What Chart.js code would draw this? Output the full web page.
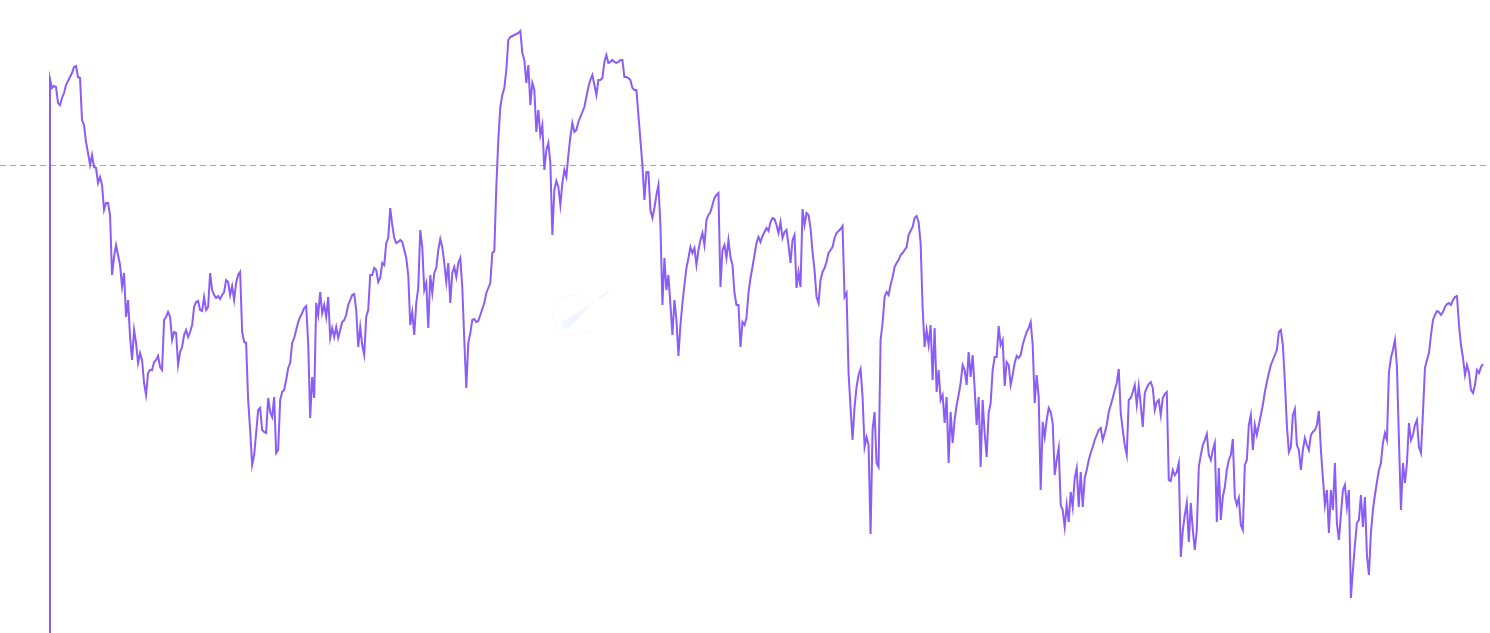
<!DOCTYPE html>
<html>
<head>
<meta charset="utf-8">
<title>Line chart</title>
<script src="https://cdn.jsdelivr.net/npm/chart.js@4/dist/chart.umd.min.js"></script>
<style>
    html, body { margin: 0; padding: 0; background: #fff; overflow: hidden; }
    canvas { display: block; }
</style>
</head>
<body>
<canvas id="chart" width="1490" height="633"></canvas>
<script>
'use strict';

// No axis labels survive, so the unit is arbitrary.
const openingValue = 0;
const referenceValue = 468;
const seriesValues = [
    554,545,547,546,530,528,535,540,548,552,
    556,560,566,567,556,555,513,508,491,480,
    468,478,466,465,450,456,448,423,430,430,
    418,358,376,388,378,368,346,360,316,333,
    296,273,303,290,270,280,273,250,238,260,
    263,263,271,273,277,266,263,313,316,321,
    316,293,301,300,268,281,286,298,303,296,
    301,308,326,331,332,323,322,336,323,326,
    360,343,338,335,337,334,338,341,353,351,
    338,347,333,350,358,361,301,291,290,233,
    203,168,178,200,223,225,203,201,200,235,
    221,216,236,180,183,233,241,243,253,265,
    270,290,295,303,311,316,320,325,327,290,
    215,256,235,330,318,341,320,328,316,336,
    295,305,296,306,295,303,311,313,318,328,
    333,338,339,323,286,306,288,278,316,323,
    358,358,365,363,351,355,370,368,390,395,
    425,408,395,390,391,393,391,383,375,358,
    308,321,298,330,345,403,386,343,350,305,
    358,340,360,365,383,394,386,370,351,370,
    330,360,366,356,370,375,346,293,245,290,
    300,313,314,311,312,318,324,330,340,345,
    350,380,382,446,493,526,538,545,563,593,
    596,597,598,599,600,602,580,573,550,568,
    528,550,543,501,523,498,508,463,483,490,
    470,398,443,452,446,428,450,463,456,478,
    496,510,501,503,511,516,521,526,536,546,
    553,558,548,538,553,553,555,571,578,570,
    571,573,571,570,571,573,573,556,556,555,
    553,545,543,543,518,493,468,433,461,461,
    423,415,425,438,448,408,328,375,343,358,
    328,298,333,313,277,308,330,348,365,375,
    386,380,385,368,383,393,400,388,413,418,
    421,428,435,438,440,346,383,388,375,393,
    376,368,340,328,328,286,311,308,315,340,
    355,366,378,390,396,391,397,401,405,402,
    411,415,414,408,400,411,395,401,403,388,
    370,393,398,345,361,346,424,408,420,418,
    405,381,363,336,330,353,361,365,371,380,
    383,386,395,400,402,404,407,336,340,260,
    225,193,226,246,258,264,236,186,196,188,
    99,203,221,170,166,293,310,336,341,338,
    348,356,366,370,373,378,380,383,386,398,
    402,406,415,417,411,390,326,286,303,288,
    308,253,305,241,263,233,238,210,236,170,
    221,190,213,228,238,250,268,263,248,281,
    256,278,245,208,236,166,233,200,176,220,
    230,263,276,276,307,288,293,247,271,268,
    248,258,270,277,275,278,288,295,301,305,
    311,288,230,258,236,143,211,196,213,225,
    221,210,158,173,185,128,123,106,128,111,
    141,126,155,165,126,161,126,155,163,173,
    180,186,193,198,203,205,193,200,208,221,
    228,235,243,250,264,220,203,188,178,233,
    235,241,248,228,247,228,206,240,245,249,
    251,245,223,231,233,218,235,239,241,153,
    152,163,158,161,170,76,103,118,130,91,
    130,103,83,103,166,178,188,193,199,178,
    173,183,190,111,165,113,136,146,163,173,
    178,194,136,128,135,108,103,168,173,208,
    218,183,208,198,208,218,228,241,251,260,
    268,273,278,283,301,303,288,251,208,181,
    186,218,224,188,183,163,183,195,188,183,
    198,201,203,208,222,183,155,128,143,100,
    143,123,170,110,93,118,143,148,126,143,
    35,63,88,110,113,138,106,136,78,58,
    100,123,138,151,163,170,190,200,193,261,
    275,283,293,266,193,123,170,150,170,210,
    193,198,208,213,186,180,220,265,273,280,
    298,313,318,322,321,318,321,326,329,330,
    328,333,336,337,308,288,275,258,268,260,
    243,240,248,263,260,266,269
];

const lineColor = '#8b5cf6';

// Dashed level runs past the plot area, so it can't be a normal dataset
const referenceLine = {
    id: 'referenceLine',
    beforeDatasetsDraw(chart) {
        const ctx = chart.ctx;
        const y = Math.round(chart.scales.y.getPixelForValue(referenceValue)) + 0.5;
        ctx.save();
        ctx.strokeStyle = '#a8a8a8';
        ctx.lineWidth = 1;
        ctx.setLineDash([6, 4]);
        ctx.beginPath();
        ctx.moveTo(0, y);
        ctx.lineTo(1486, y);
        ctx.stroke();
        ctx.restore();
    }
};

// Faint logo in the middle of the plot
const watermark = {
    id: 'watermark',
    beforeDatasetsDraw(chart) {
        const ctx = chart.ctx;
        ctx.save();
        ctx.strokeStyle = '#f7f7f9';
        ctx.lineWidth = 1;
        ctx.beginPath();
        ctx.arc(573, 315, 20, -0.6, 0.8, true);
        ctx.quadraticCurveTo(585, 339, 592, 331);
        ctx.stroke();

        const tail = ctx.createLinearGradient(563, 328, 595, 301);
        tail.addColorStop(0, '#eefbfc');
        tail.addColorStop(0.35, '#f4f0fe');
        tail.addColorStop(1, '#f9f8fc');
        ctx.fillStyle = tail;
        ctx.beginPath();
        ctx.moveTo(595, 301);
        ctx.lineTo(568, 329);
        ctx.quadraticCurveTo(560, 331, 562, 322);
        ctx.closePath();
        ctx.fill();

        ctx.strokeStyle = '#f5f5f7';
        ctx.lineWidth = 2;
        ctx.beginPath();
        ctx.moveTo(599, 298);
        ctx.lineTo(609, 291);
        ctx.stroke();
        ctx.restore();
    }
};

new Chart(document.getElementById('chart'), {
    type: 'line',
    data: {
        datasets: [{
            // the opening point sits on the same x as the first value: the vertical spike
            data: [{ x: 0, y: openingValue }, ...seriesValues.map((v, i) => ({ x: i, y: v }))],
            borderColor: lineColor,
            borderWidth: 2,
            pointRadius: 0,
            tension: 0,
            fill: false,
            clip: false // otherwise the plot edge eats half of the spike
        }]
    },
    options: {
        responsive: false,
        animation: false,
        devicePixelRatio: 1,
        layout: { padding: { left: 50, right: 7, top: 0, bottom: 0 } },
        plugins: { legend: { display: false }, tooltip: { enabled: false } },
        scales: {
            x: { type: 'linear', display: false, min: 0, max: seriesValues.length - 1 },
            y: { display: false, min: 0, max: 633 }
        }
    },
    plugins: [referenceLine, watermark]
});
</script>
</body>
</html>
